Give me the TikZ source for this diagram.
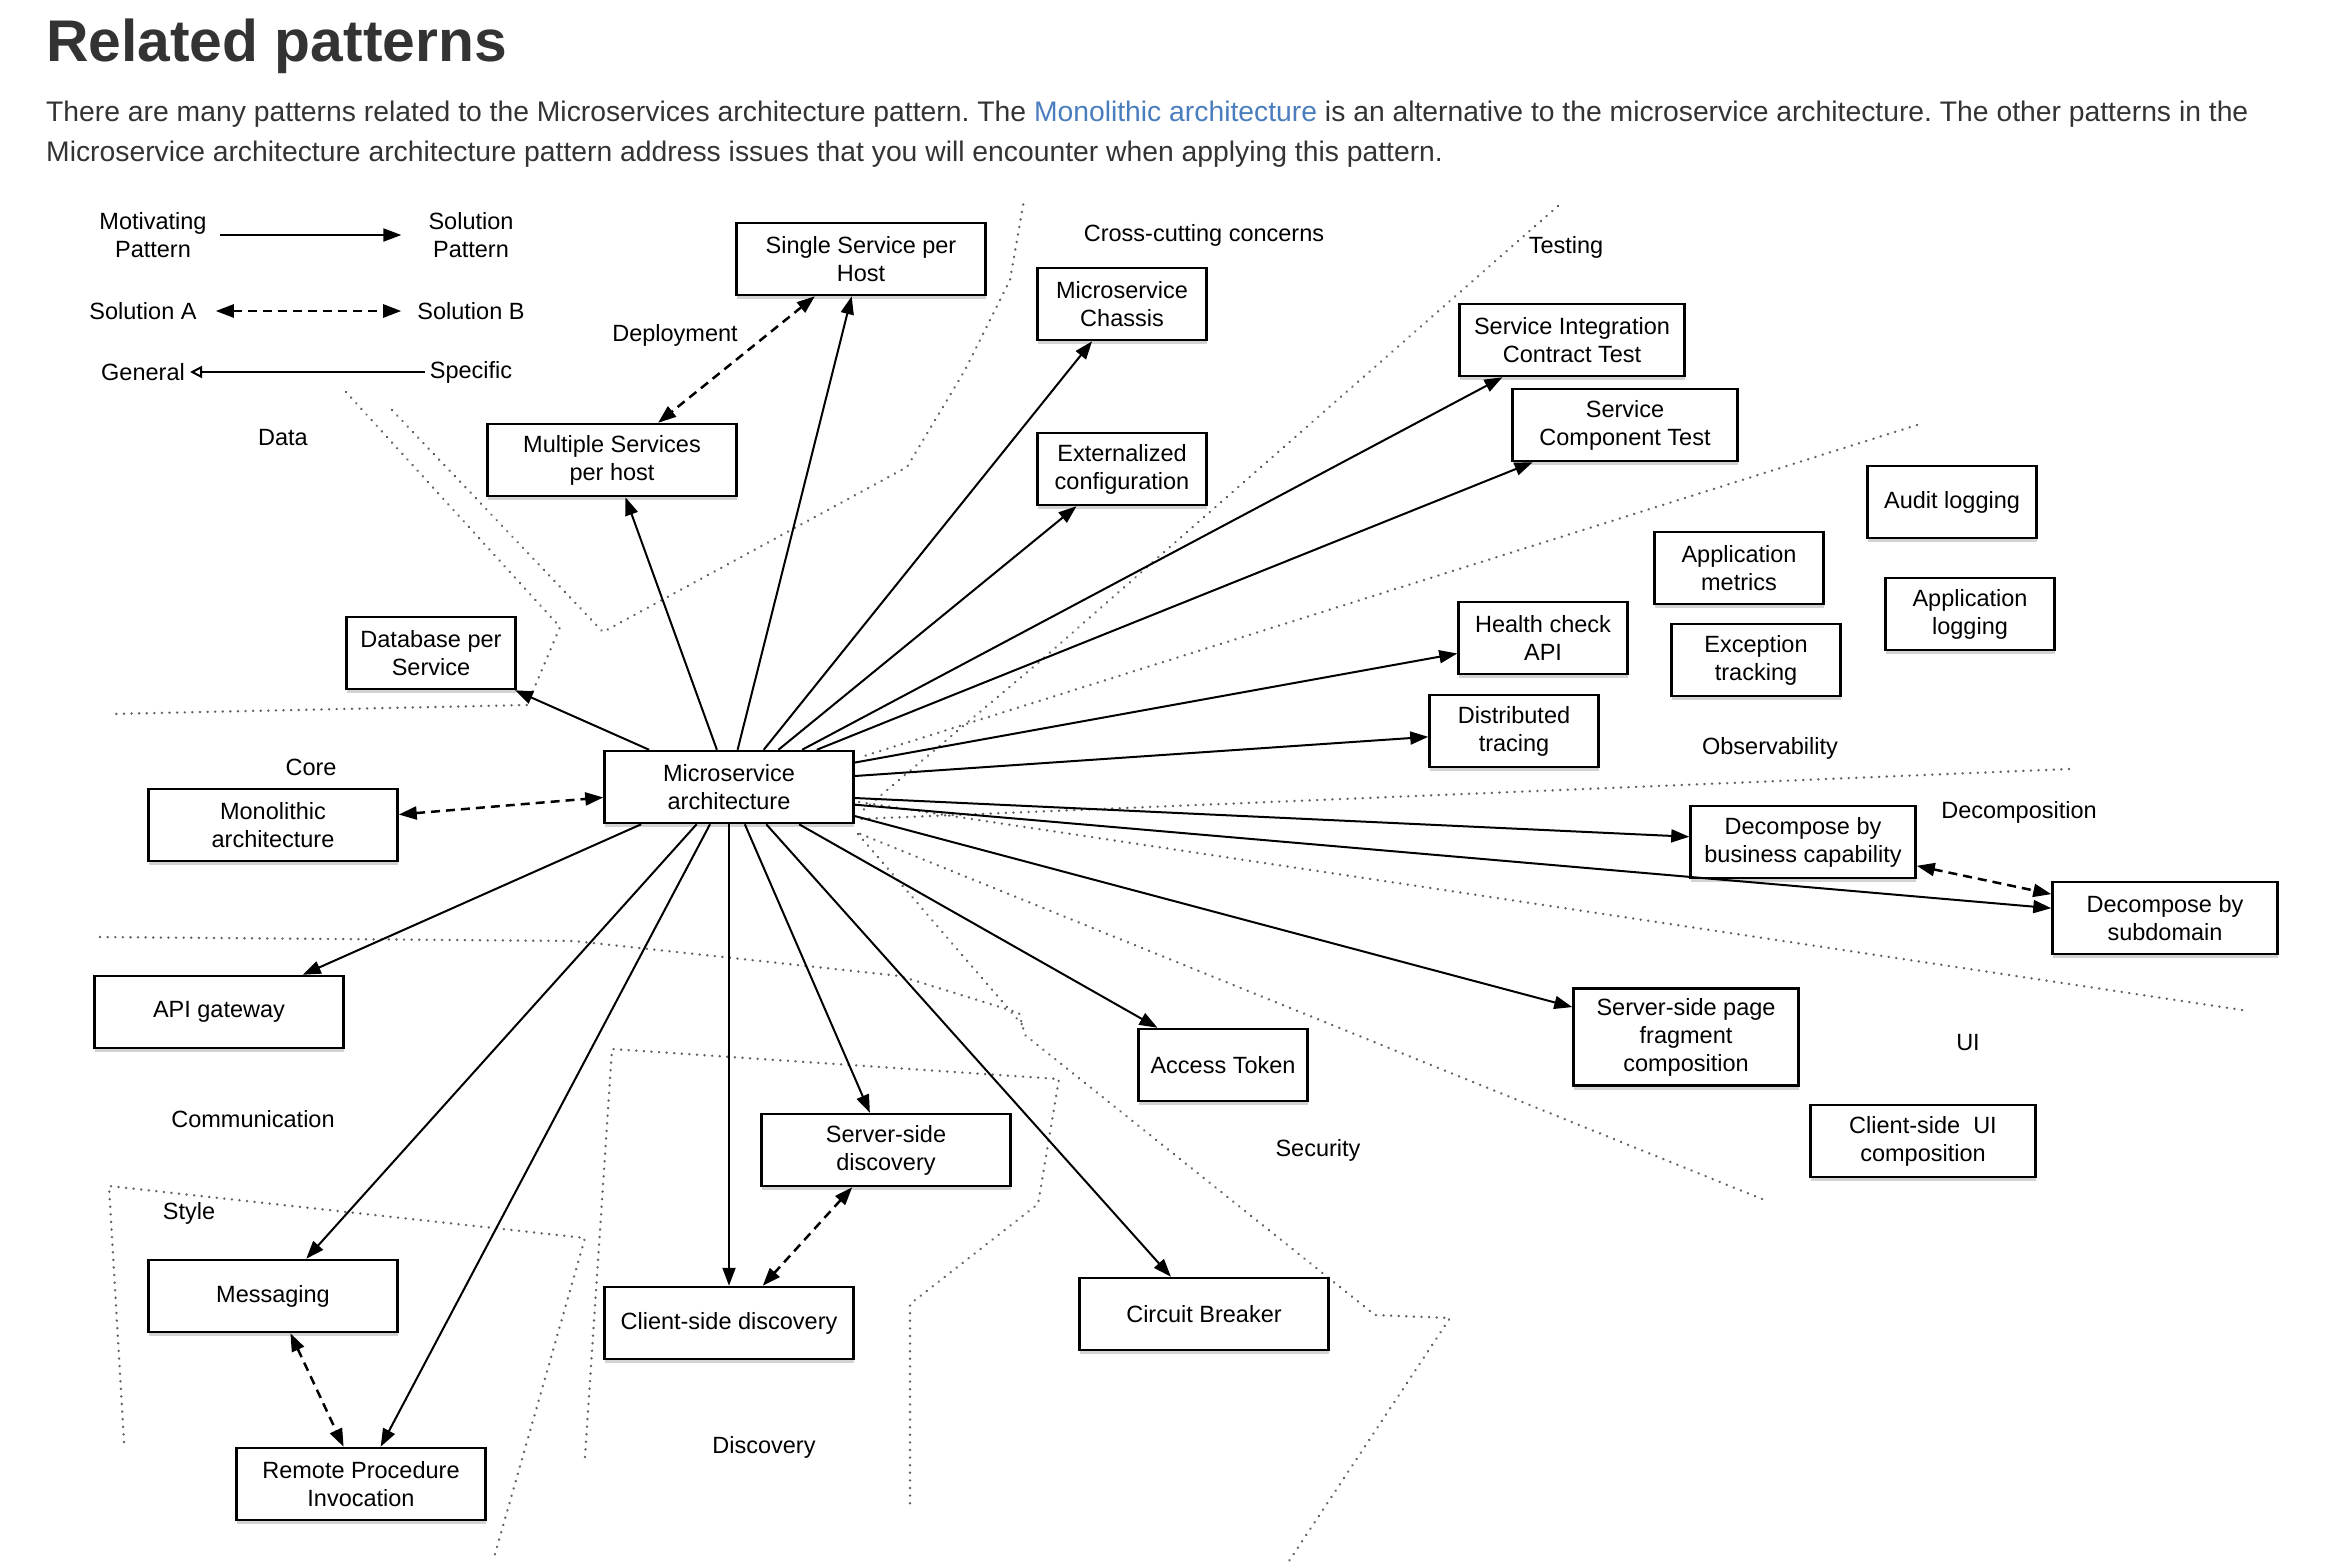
\documentclass[tikz,border=0pt]{standalone}
\usepackage{fontspec}
\setmainfont{Liberation Sans}
\usetikzlibrary{arrows.meta,shadows}
\frenchspacing
\definecolor{linkblue}{HTML}{4A7DBD}
\definecolor{txt}{HTML}{333333}
\newcommand{\boxfont}{\fontsize{23.5}{28}\selectfont}
\tikzset{
  pat/.style={draw, line width=2.5pt, fill=white, align=center, minimum height=72pt,
    inner sep=3pt, font=\boxfont,
    drop shadow={shadow xshift=0pt, shadow yshift=-4pt, opacity=0.35}},
  widebox/.style={pat, minimum width=249pt},
  midbox/.style={pat, minimum width=225pt},
  smallbox/.style={pat, minimum width=169pt},
  lbl/.style={font=\boxfont, align=center, inner sep=5pt},
  rel/.style={-{Triangle[length=18pt,width=13pt]}, line width=2pt},
  alt/.style={{Triangle[length=18pt,width=13pt]}-{Triangle[length=18pt,width=13pt]},
    line width=2.5pt, dash pattern=on 9pt off 6pt},
  region/.style={black!62, line width=2.6pt, dash pattern=on 0.1pt off 7.5pt, line cap=round},
}
\begin{document}
\begin{tikzpicture}[x=1pt,y=-1pt]
    \useasboundingbox (0,0) rectangle (2336,1564);
    % heading
    \node[anchor=base west, inner sep=0, text=txt, font=\fontsize{58.8}{70}\selectfont\bfseries] (title) at (46,61) {Related patterns};
    \node[anchor=base west, inner sep=0, text=txt, font=\fontsize{28.3}{40}\selectfont] (par1) at (46,121)
        {There are many patterns related to the Microservices architecture pattern. The \textcolor{linkblue}{Monolithic architecture} is an alternative to the microservice architecture. The other patterns in the};
    \node[anchor=base west, inner sep=0, text=txt, font=\fontsize{28.3}{40}\selectfont] (par2) at (46,161)
        {Microservice architecture architecture pattern address issues that you will encounter when applying this pattern.};

    % region borders
    \draw[region] (346,392) -- (560,627) -- (527,705) -- (109,714);
    \draw[region] (392,410) -- (603,632) -- (907,467) -- (965,370) -- (1010,280) -- (1024,200);
    \draw[region] (1558,206) -- (1038,663) -- (861,812);
    \draw[region] (1917,425) -- (861,757);
    \draw[region] (2069,769) -- (858,819);
    \draw[region] (2242,1010) -- (852,801);
    \draw[region] (1762,1199) -- (858,833);
    \draw[region] (858,834) -- (1025,1028);
    \draw[region] (100,937) -- (574,941) -- (900,976) -- (1019,1013) -- (1025,1035) -- (1375,1315) -- (1450,1318) -- (1289,1561);
    \draw[region] (585,1457) -- (612,1049) -- (1059,1079) -- (1038,1204) -- (910,1304) -- (910,1505);
    \draw[region] (124,1442) -- (109,1186) -- (585,1238) -- (493,1561);

    % legend
    \node[lbl] (mot) at (153,235) {Motivating\\Pattern};
    \node[lbl] (solpat) at (471,235) {Solution\\Pattern};
    \node[lbl] (sola) at (143,311) {Solution A};
    \node[lbl] (solb) at (471,311) {Solution B};
    \node[lbl] (gen) at (143,372) {General};
    \node[lbl] (spec) at (471,372) {Specific};
    \draw[rel, shorten <=8pt, shorten >=22pt] (mot) -- (solpat);
    \draw[alt, shorten <=14pt, shorten >=11pt] (sola) -- (solb);
    \draw[line width=2pt, -{Triangle[open,length=12pt,width=12pt]}] (spec) -- (gen);

    % group labels
    \node[lbl] (lcross) at (1204,235) {Cross-cutting concerns};
    \node[lbl] (ltest) at (1566,247) {Testing};
    \node[lbl] (ldeploy) at (675,335) {Deployment};
    \node[lbl] (ldata) at (283,438) {Data};
    \node[lbl] (lcore) at (311,767) {Core};
    \node[lbl] (lobs) at (1770,748) {Observability};
    \node[lbl] (ldecomp) at (2019,812) {Decomposition};
    \node[lbl] (lui) at (1968,1043) {UI};
    \node[lbl] (lcomm) at (253,1119) {Communication};
    \node[lbl] (lstyle) at (189,1213) {Style};
    \node[lbl] (lsec) at (1318,1150) {Security};
    \node[lbl] (ldisc) at (764,1447) {Discovery};

    % patterns
    \node[widebox] (single) at (861,259) {Single Service per\\Host};
    \node[smallbox] (chassis) at (1122,304) {Microservice\\Chassis};
    \node[widebox] (multi) at (612,460) {Multiple Services\\per host};
    \node[smallbox] (extconf) at (1122,469) {Externalized\\configuration};
    \node[midbox] (sict) at (1572,340) {Service Integration\\Contract Test};
    \node[midbox] (sct) at (1625,425) {Service\\Component Test};
    \node[smallbox] (audit) at (1952,502) {Audit logging};
    \node[smallbox] (appmet) at (1739,568) {Application\\metrics};
    \node[smallbox] (applog) at (1970,614) {Application\\logging};
    \node[smallbox] (health) at (1543,638) {Health check\\API};
    \node[smallbox] (exctrack) at (1756,660) {Exception\\tracking};
    \node[smallbox] (disttr) at (1514,731) {Distributed\\tracing};
    \node[smallbox] (dbps) at (431,653) {Database per\\Service};
    \node[widebox] (ma) at (729,787) {Microservice\\architecture};
    \node[widebox] (mono) at (273,825) {Monolithic\\architecture};
    \node[midbox] (decbus) at (1803,842) {Decompose by\\business capability};
    \node[midbox] (decsub) at (2165,918) {Decompose by\\subdomain};
    \node[widebox] (apigw) at (219,1012) {API gateway};
    \node[smallbox] (token) at (1223,1065) {Access Token};
    \node[midbox, minimum height=97pt] (sspage) at (1686,1037) {Server-side page\\fragment\\composition};
    \node[midbox] (csui) at (1923,1141) {Client-side~~UI\\composition};
    \node[widebox] (ssdisc) at (886,1150) {Server-side\\discovery};
    \node[widebox] (msg) at (273,1296) {Messaging};
    \node[widebox] (csdisc) at (729,1323) {Client-side discovery};
    \node[widebox] (cb) at (1204,1314) {Circuit Breaker};
    \node[widebox] (rpi) at (361,1484) {Remote Procedure\\Invocation};

    % motivating -> solution
    \foreach \a/\t in {155/dbps,108/multi,77/single,47/chassis,37/extconf,27.5/sict,23/sct,
        11/health,5/disttr,-5/decbus,-8/decsub,-13/sspage,-28/token,-45/cb,-67/ssdisc,
        -90/csdisc,-117/rpi,-131/msg,-157/apigw}
        \draw[rel] (ma.\a) -- (\t);
    % alternatives
    \foreach \s/\t in {mono/ma,single/multi,ssdisc/csdisc,msg/rpi,decbus/decsub}
        \draw[alt] (\s) -- (\t);
\end{tikzpicture}
\end{document}
